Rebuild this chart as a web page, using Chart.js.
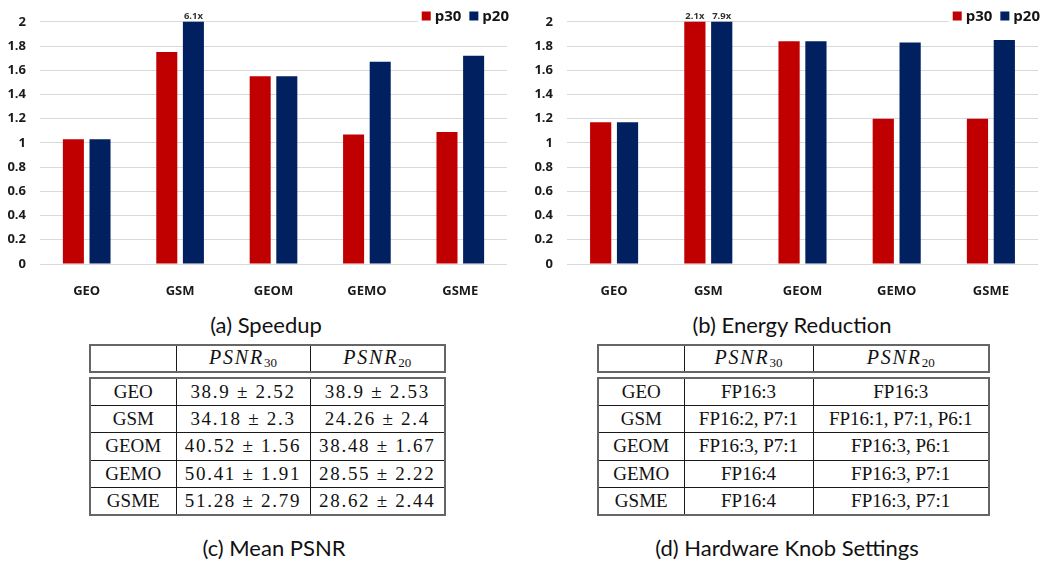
<!DOCTYPE html>
<html>
<head>
<meta charset="utf-8">
<script src="https://cdn.jsdelivr.net/npm/chart.js@4.4.1/dist/chart.umd.min.js"></script>
<style>
  body { margin: 0; background: #fff; }
  #wrap { position: relative; width: 1064px; height: 565px; overflow: hidden; }
  canvas { position: absolute; top: 0; }
  .cap { position: absolute; font-family: 'Lato', sans-serif; font-size: 22px; line-height: 26px; color: #111; text-align: center; white-space: nowrap; }
  table { position: absolute; border-collapse: collapse; table-layout: fixed; font-family: 'Liberation Serif', serif; font-size: 19px; color: #111; border: 2px solid #666; }
  td { border: 1px solid #1a1a1a; text-align: center; vertical-align: middle; padding: 0; white-space: nowrap; }
  .math { letter-spacing: 0.09em; }
  .psnr i { letter-spacing: 0.09em; font-size: 20px; }
  .psnr sub { font-size: 13px; vertical-align: -3px; }
</style>
</head>
<body>
<div id="wrap">
  <canvas id="speedupChart" width="530" height="300" style="left:0"></canvas>
  <canvas id="energyChart" width="534" height="300" style="left:530px"></canvas>
  <div class="cap" style="left:166px;top:312px;width:200px">(a) Speedup</div>
  <div class="cap" style="left:642px;top:312px;width:300px">(b) Energy Reduction</div>
  <table id="psnrHead" style="left:89px;top:344px;width:355px"></table>
  <table id="psnrBody" style="left:89px;top:377px;width:355px"></table>
  <table id="knobHead" style="left:597px;top:344px;width:391px"></table>
  <table id="knobBody" style="left:597px;top:377px;width:391px"></table>
  <div class="cap" style="left:174px;top:535px;width:200px">(c) Mean PSNR</div>
  <div class="cap" style="left:637px;top:535px;width:300px">(d) Hardware Knob Settings</div>
</div>
<script>
// chart data
const categories = ['GEO', 'GSM', 'GEOM', 'GEMO', 'GSME'];
const speedupP30 = [1.03, 1.75, 1.55, 1.07, 1.09];
const speedupP20 = [1.03, 6.1, 1.55, 1.67, 1.72];
const energyP30 = [1.17, 2.1, 1.84, 1.2, 1.2];
const energyP20 = [1.17, 7.9, 1.84, 1.83, 1.85];
const seriesLabels = ['p30', 'p20'];
const seriesColors = ['#C00000', '#002060'];
const yMax = 2;
const yStep = 0.2;

// table data
const tableRows = ['GEO', 'GSM', 'GEOM', 'GEMO', 'GSME'];
const psnr30 = ['38.9 ± 2.52', '34.18 ± 2.3', '40.52 ± 1.56', '50.41 ± 1.91', '51.28 ± 2.79'];
const psnr20 = ['38.9 ± 2.53', '24.26 ± 2.4', '38.48 ± 1.67', '28.55 ± 2.22', '28.62 ± 2.44'];
const knob30 = ['FP16:3', 'FP16:2, P7:1', 'FP16:3, P7:1', 'FP16:4', 'FP16:4'];
const knob20 = ['FP16:3', 'FP16:1, P7:1, P6:1', 'FP16:3, P6:1', 'FP16:3, P7:1', 'FP16:3, P7:1'];
const headCols = ['30', '20'];

Chart.defaults.font.family = 'Open Sans';

// labels like "6.1x" for bars that run past the top of the axis
const overflowLabels = {
    id: 'overflowLabels',
    afterDatasetsDraw(chart) {
        const ctx = chart.ctx;
        const yScale = chart.scales.y;
        ctx.save();
        ctx.font = 'bold 9.5px "Open Sans"';
        ctx.fillStyle = '#333';
        ctx.textAlign = 'center';
        ctx.textBaseline = 'middle';
        chart.data.datasets.forEach(function(ds, i) {
            const meta = chart.getDatasetMeta(i);
            ds.data.forEach(function(v, j) {
                if (v > yScale.max) {
                    ctx.fillText(v + 'x', meta.data[j].x, chart.chartArea.top - 6);
                }
            });
        });
        ctx.restore();
    }
};

// small square legend in the top right corner
const cornerLegend = {
    id: 'cornerLegend',
    afterDraw(chart) {
        const ctx = chart.ctx;
        ctx.save();
        ctx.font = 'bold 15px "Open Sans"';
        const box = 9, gap = 4, itemGap = 8;
        const items = chart.data.datasets.map(function(ds) {
            return { text: ds.label, color: ds.backgroundColor, w: ctx.measureText(ds.label).width };
        });
        let total = 0;
        items.forEach(function(it, k) { total += box + gap + it.w + (k ? itemGap : 0); });
        let x = chart.chartArea.right + 2 - total;
        ctx.fillStyle = '#fff';
        ctx.fillRect(x - 4, 9, total + 6, 14);
        ctx.textBaseline = 'alphabetic';
        items.forEach(function(it) {
            ctx.fillStyle = it.color;
            ctx.fillRect(x, 11.5, box, box);
            x += box + gap;
            ctx.fillStyle = '#141414';
            ctx.fillText(it.text, x, 21);
            x += it.w + itemGap;
        });
        ctx.restore();
    }
};

function makeChart(id, p30, p20, axisWidth, padRight) {
    const canvas = document.getElementById(id);
    return new Chart(canvas.getContext('2d'), {
        type: 'bar',
        data: {
            labels: categories,
            datasets: [
                { label: seriesLabels[0], data: p30, backgroundColor: seriesColors[0], clip: 0 },
                { label: seriesLabels[1], data: p20, backgroundColor: seriesColors[1], clip: 0 }
            ]
        },
        options: {
            responsive: false,
            animation: false,
            layout: { padding: { top: 12, right: padRight, left: 0, bottom: 0 } },
            datasets: { bar: { categoryPercentage: 0.57, barPercentage: 0.79 } },
            plugins: { legend: { display: false }, tooltip: { enabled: false } },
            scales: {
                x: {
                    grid: { display: false },
                    border: { display: false },
                    ticks: { padding: 11, color: '#1a1a1a', font: { size: 13, weight: 'bold' } },
                    afterFit: function(s) { s.height = 36; }
                },
                y: {
                    min: 0,
                    max: yMax,
                    grid: { color: '#d9d9d9', drawTicks: false },
                    border: { display: false },
                    ticks: {
                        stepSize: yStep,
                        padding: 14,
                        color: '#1a1a1a',
                        font: { size: 13, weight: 'bold' },
                        callback: function(value) { return String(+value.toFixed(1)); }
                    },
                    afterFit: function(s) { s.width = axisWidth; }
                }
            }
        },
        plugins: [overflowLabels, cornerLegend]
    });
}

makeChart('speedupChart', speedupP30, speedupP20, 40, 23);
makeChart('energyChart', energyP30, energyP20, 37, 26);

// tables
function fillHead(id, widths) {
    const t = document.getElementById(id);
    let html = '<colgroup>' + widths.map(function(w) { return '<col style="width:' + w + 'px">'; }).join('') + '</colgroup>';
    html += '<tr style="height:27px"><td></td>' + headCols.map(function(c) {
        return '<td class="psnr"><i>PSNR</i><sub>' + c + '</sub></td>';
    }).join('') + '</tr>';
    t.innerHTML = html;
}
function fillBody(id, widths, colA, colB, cls) {
    const t = document.getElementById(id);
    let html = '<colgroup>' + widths.map(function(w) { return '<col style="width:' + w + 'px">'; }).join('') + '</colgroup>';
    tableRows.forEach(function(r, i) {
        html += '<tr style="height:27.4px"><td>' + r + '</td><td class="' + cls + '">' + colA[i] + '</td><td class="' + cls + '">' + colB[i] + '</td></tr>';
    });
    t.innerHTML = html;
}
fillHead('psnrHead', [86, 134, 135]);
fillBody('psnrBody', [86, 134, 135], psnr30, psnr20, 'math');
fillHead('knobHead', [86, 129, 176]);
fillBody('knobBody', [86, 129, 176], knob30, knob20, '');
</script>
</body>
</html>
